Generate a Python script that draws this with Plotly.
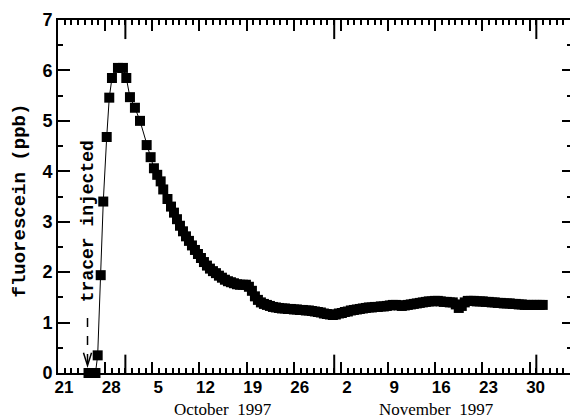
import plotly.graph_objects as go

# time in days after 21 September 1997 (00:00)
days_sparse = [4.53, 5.56, 5.89, 6.34, 6.72, 7.23, 7.61, 8.01, 8.90, 9.64, 10.14,
               10.68, 11.42, 12.17, 13.16, 13.75, 14.24, 14.73, 15.24, 15.62, 16.25]
fluor_sparse = [0.0, 0.0, 0.35, 1.94, 3.40, 4.68, 5.46, 5.85, 6.05, 6.05, 5.85,
                5.47, 5.26, 5.00, 4.52, 4.28, 4.06, 3.93, 3.80, 3.64, 3.45]

# denser logging afterwards (one sample every ~10.7 h)
dense_start = 16.77
dense_step = 0.445
fluor_dense = [
    3.30, 3.18, 3.05, 2.92, 2.81, 2.71, 2.62, 2.53, 2.44, 2.36, 2.28, 2.20, 2.13, 2.07,
    2.02, 1.98, 1.93, 1.89, 1.85, 1.82, 1.80, 1.78, 1.76, 1.75, 1.75, 1.75, 1.71, 1.63,
    1.52, 1.45, 1.40, 1.37, 1.35, 1.33, 1.31, 1.30, 1.29, 1.28, 1.28, 1.27, 1.27, 1.26,
    1.26, 1.25, 1.25, 1.24, 1.24, 1.23, 1.22, 1.21, 1.20, 1.18, 1.17, 1.16, 1.15, 1.16,
    1.18, 1.19, 1.21, 1.22, 1.24, 1.25, 1.26, 1.27, 1.28, 1.29, 1.30, 1.30, 1.31, 1.31,
    1.32, 1.32, 1.33, 1.34, 1.35, 1.35, 1.34, 1.33, 1.34, 1.35, 1.36, 1.37, 1.38, 1.39,
    1.40, 1.41, 1.42, 1.42, 1.43, 1.43, 1.42, 1.41, 1.41, 1.40, 1.40, 1.36, 1.29, 1.33,
    1.40, 1.43, 1.43, 1.43, 1.42, 1.42, 1.42, 1.41, 1.41, 1.40, 1.40, 1.39, 1.39, 1.38,
    1.38, 1.38, 1.37, 1.37, 1.36, 1.36, 1.35, 1.35, 1.35, 1.35, 1.35, 1.35, 1.35,
]
days_dense = [dense_start + dense_step * i for i in range(len(fluor_dense))]

days = days_sparse + days_dense
fluor = fluor_sparse + fluor_dense

week_ticks = [0, 7, 14, 21, 28, 35, 42, 49, 56, 63, 70]
week_labels = ["21", "28", "5", "12", "19", "26", "2", "9", "16", "23", "30"]
month_starts = [10, 41, 71]  # 1 Oct, 1 Nov, 1 Dec
month_labels = ["October  1997", "November  1997"]
month_label_pos = [0.322, 0.740]

injection_day = 4.38

fig = go.Figure()
fig.add_trace(go.Scatter(
    x=days, y=fluor, mode="lines+markers",
    line=dict(color="black", width=1),
    marker=dict(symbol="square", size=10, color="black"),
    cliponaxis=False, showlegend=False, hoverinfo="x+y",
))
# carrier trace for the right-hand tick axis
fig.add_trace(go.Scatter(x=days[:1], y=fluor[:1], yaxis="y2", mode="markers",
                         marker=dict(opacity=0), showlegend=False, hoverinfo="skip"))

shapes = []
for m in month_starts:
    shapes.append(dict(type="line", xref="x", yref="paper", x0=m, x1=m, y0=0, y1=0.052,
                       line=dict(color="black", width=2)))
    shapes.append(dict(type="line", xref="x", yref="paper", x0=m, x1=m, y0=1, y1=1 - 0.054,
                       line=dict(color="black", width=2)))
# dashed injection arrow
shapes.append(dict(type="line", xref="x", yref="y", x0=injection_day, x1=injection_day,
                   y0=1.09, y1=0.2, line=dict(color="black", width=1.5, dash="dash")))
shapes.append(dict(type="path", xref="x", yref="y",
                   path=f"M {injection_day-0.6},0.40 L {injection_day},0.15 L {injection_day+0.6},0.40",
                   line=dict(color="black", width=1.5)))

annotations = [
    dict(text="fluorescein (ppb)", xref="paper", yref="paper", x=-0.074, y=0.489,
         xanchor="center", yanchor="middle",
         textangle=-90, showarrow=False,
         font=dict(family="Liberation Mono", size=19, color="black", weight="bold")),
    dict(text="tracer injected", xref="x", yref="y", x=injection_day, y=3.0,
         xanchor="center", yanchor="middle",
         textangle=-90, showarrow=False,
         font=dict(family="Liberation Mono", size=18, color="black", weight="bold")),
]
for lab, pos in zip(month_labels, month_label_pos):
    annotations.append(dict(text=lab, xref="paper", yref="paper", x=pos, y=-0.102,
                            xanchor="center", yanchor="middle",
                            showarrow=False,
                            font=dict(family="Liberation Serif", size=17, color="black")))

fig.update_layout(
    width=570, height=419,
    margin=dict(l=58, r=0, t=20, b=46),
    paper_bgcolor="white", plot_bgcolor="white",
    xaxis=dict(
        range=[0, 76], tickvals=week_ticks, ticktext=week_labels,
        ticks="inside", ticklen=11, tickwidth=2, tickcolor="black",
        ticklabelshift=6, ticklabelstandoff=-2,
        minor=dict(dtick=1, tick0=0, ticks="inside", ticklen=5, tickwidth=1.5, tickcolor="black"),
        showline=True, linewidth=2, linecolor="black", mirror="ticks",
        showgrid=False, zeroline=False,
        tickfont=dict(family="Liberation Sans", size=17, color="black", weight="bold"),
    ),
    yaxis=dict(
        range=[0, 7], tickvals=[0, 1, 2, 3, 4, 5, 6, 7],
        ticks="inside", ticklen=12, tickwidth=2, tickcolor="black",
        minor=dict(dtick=0.5, ticks="inside", ticklen=5, tickwidth=1.5, tickcolor="black"),
        showline=True, linewidth=2, linecolor="black",
        showgrid=False, zeroline=False,
        tickfont=dict(family="Liberation Sans", size=18, color="black", weight="bold"),
    ),
    yaxis2=dict(
        range=[0, 7], overlaying="y", side="right", anchor="x",
        tickvals=[0, 1, 2, 3, 4, 5, 6, 7], showticklabels=False,
        ticks="inside", ticklen=8, tickwidth=2, tickcolor="black",
        minor=dict(dtick=0.5, ticks="inside", ticklen=3, tickwidth=1.5, tickcolor="black"),
        showline=False, showgrid=False, zeroline=False,
    ),
    shapes=shapes,
    annotations=annotations,
)

fig.write_html("out.html")
